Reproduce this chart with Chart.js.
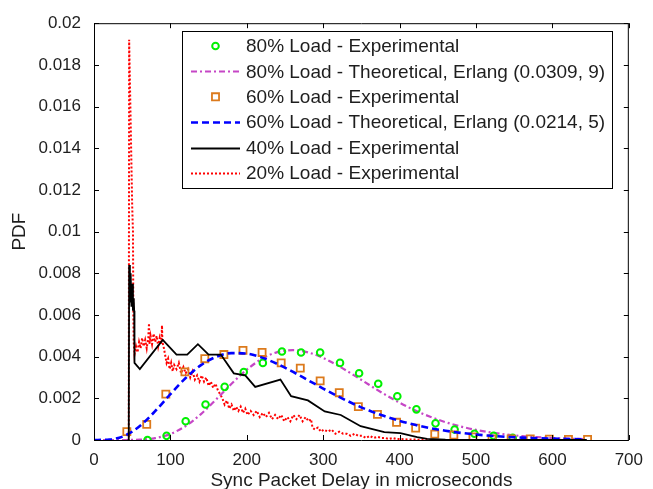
<!DOCTYPE html>
<html><head><meta charset="utf-8">
<script src="https://cdn.jsdelivr.net/npm/chart.js@4.4.1/dist/chart.umd.min.js"></script>
<style>html,body{margin:0;padding:0;background:#fff;}#wrap{width:653px;height:489px;}</style>
</head><body><div id="wrap"><canvas id="c" width="653" height="489"></canvas></div>
<script>
// ---------- data ----------
const xTicks = [0, 100, 200, 300, 400, 500, 600, 700];
const xTickLabels = ['0', '100', '200', '300', '400', '500', '600', '700'];
const yTicks = [0, 0.002, 0.004, 0.006, 0.008, 0.01, 0.012, 0.014, 0.016, 0.018, 0.02];
const yTickLabels = ['0', '0.002', '0.004', '0.006', '0.008', '0.01', '0.012', '0.014', '0.016', '0.018', '0.02'];

const seriesLabels = [
  '80% Load - Experimental',
  '80% Load - Theoretical, Erlang (0.0309, 9)',
  '60% Load - Experimental',
  '60% Load - Theoretical, Erlang (0.0214, 5)',
  '40% Load - Experimental',
  '20% Load - Experimental'
];

// 80% experimental (circles)
const exp80X = [70, 95, 120, 146, 171, 196, 221, 246, 271, 296, 322, 347, 372, 397, 422, 447, 472, 498, 523, 548];
const exp80Y = [0, 0.0002, 0.0009, 0.0017, 0.00255, 0.00326, 0.0037, 0.00425, 0.0042, 0.0042, 0.0037, 0.0032, 0.0027, 0.0021, 0.00147, 0.0008, 0.0005, 0.0003, 0.0002, 0.0001];

// theoretical curves sampled every 20 us
const theoX = [0, 20, 40, 60, 80, 100, 120, 140, 160, 180, 200, 220, 240, 260, 280, 300, 320, 340, 360, 380, 400, 420, 440, 460, 480, 500, 520, 540, 560, 580, 600, 620, 640];
const theo80Y = [0, 0, 0.000001, 0.000017, 0.00009, 0.00029, 0.000672, 0.001243, 0.00195, 0.002697, 0.003376, 0.003901, 0.004217, 0.004312, 0.004204, 0.003936, 0.003556, 0.003112, 0.00265, 0.002202, 0.001789, 0.001425, 0.001114, 0.000857, 0.000649, 0.000485, 0.000358, 0.000261, 0.000188, 0.000134, 0.000095, 0.000067, 0.000047];
const theo60Y = [0, 0.00002, 0.000203, 0.000671, 0.001383, 0.0022, 0.002974, 0.003591, 0.003993, 0.00417, 0.004142, 0.003953, 0.00365, 0.003277, 0.002873, 0.002467, 0.002082, 0.001729, 0.001417, 0.001147, 0.000918, 0.000727, 0.000571, 0.000444, 0.000343, 0.000263, 0.000201, 0.000152, 0.000115, 0.000086, 0.000064, 0.000048, 0.000035];

// 60% experimental (squares)
const exp60X = [43, 69, 94, 119, 145, 170, 195, 220, 245, 270, 296, 321, 346, 371, 396, 421, 446, 471, 496, 521, 546, 571, 596, 621, 646];
const exp60Y = [0.0004, 0.00075, 0.0022, 0.00327, 0.0039, 0.0041, 0.0043, 0.0042, 0.0037, 0.00345, 0.00284, 0.00227, 0.0016, 0.00123, 0.00085, 0.00057, 0.00028, 0.00024, 0.00015, 0.00005, 0.00005, 0.00005, 0.00004, 0.00003, 0.00003];

// 40% experimental (black line)
const exp40X = [44, 45.5, 46, 47, 48, 49, 50, 51, 52, 52.6, 53, 60, 90, 108, 122, 136, 150, 166, 183, 198, 211, 244, 258, 280, 302, 323, 349, 380, 401, 423, 436, 460, 500, 550, 645];
const exp40Y = [0, 0, 0.0084, 0.0066, 0.0080, 0.0064, 0.0075, 0.0062, 0.0068, 0.0062, 0.0037, 0.0034, 0.0048, 0.0041, 0.0041, 0.0046, 0.0041, 0.0041, 0.0032, 0.0031, 0.00255, 0.0029, 0.0021, 0.0019, 0.00137, 0.0012, 0.00066, 0.00038, 0.00033, 0.00014, 0.00005, 0.00002, 0.00001, 0, 0];

// 20% experimental (red dotted)
const exp20X = [44, 45.5, 46, 50, 51, 51.5, 52, 53, 55, 57, 59, 61, 63, 65, 67, 69, 71, 72, 72.5, 74, 76, 78, 80, 82, 84, 86, 88, 89, 89.5, 91, 93, 95, 97, 99, 101, 103, 105, 108, 111, 114, 117, 120, 123, 126, 129, 132, 135, 138, 141, 144, 147, 150, 153, 156, 159, 162, 165, 168, 171, 174, 177, 180, 183, 186, 189, 192, 195, 198, 201, 205, 209, 213, 217, 221, 225, 229, 233, 237, 241, 245, 249, 253, 257, 261, 265, 269, 273, 277, 281, 284, 286, 289, 293, 297, 301, 306, 311, 316, 321, 326, 331, 336, 341, 346, 351, 356, 361, 366, 371, 376, 381, 386, 391, 396, 401, 410, 420, 430, 440, 460, 480];
const exp20Y = [0, 0, 0.0192, 0.0112, 0.0100, 0.0060, 0.0047, 0.0041, 0.0045, 0.0042, 0.0047, 0.0044, 0.0049, 0.0045, 0.0048, 0.0044, 0.0049, 0.0056, 0.0046, 0.0050, 0.0046, 0.0051, 0.0047, 0.0050, 0.0045, 0.0049, 0.0046, 0.0055, 0.0047, 0.0045, 0.0041, 0.0037, 0.0039, 0.0034, 0.0037, 0.0033, 0.0036, 0.0034, 0.0037, 0.0032, 0.0035, 0.0032, 0.0034, 0.0030, 0.0033, 0.0029, 0.0031, 0.0028, 0.0031, 0.0028, 0.0030, 0.0026, 0.0028, 0.0025, 0.0027, 0.0024, 0.0022, 0.0020, 0.0017, 0.0019, 0.0015, 0.0017, 0.0014, 0.0016, 0.0014, 0.0016, 0.0013, 0.0015, 0.0012, 0.0014, 0.0012, 0.0014, 0.0011, 0.0013, 0.0011, 0.0013, 0.0010, 0.0012, 0.0010, 0.0012, 0.0009, 0.0011, 0.0009, 0.0012, 0.0010, 0.0012, 0.0009, 0.0011, 0.0009, 0.0010, 0.0006, 0.0005, 0.0006, 0.0004, 0.0005, 0.0004, 0.0005, 0.0003, 0.0004, 0.0003, 0.0003, 0.0002, 0.0003, 0.0002, 0.0002, 0.0001, 0.0002, 0.0001, 0.00015, 0.0001, 0.0001, 0.00005, 0.0001, 0.00005, 0.00005, 0.00003, 0.00002, 0.00001, 0, 0, 0];

// ---------- build ----------
const pts = (xs, ys) => xs.map((x, i) => ({x: x, y: ys[i]}));
const FONT = "'Liberation Sans', Arial, sans-serif";
const TXT = '#1e1e1e';

const datasets = [
  {label: seriesLabels[5], data: pts(exp20X, exp20Y), showLine: true, borderColor: '#ff0000', borderWidth: 2, borderDash: [2, 2], pointRadius: 0, order: 6, _kind: 'line'},
  {label: seriesLabels[1], data: pts(theoX, theo80Y), showLine: true, borderColor: '#c646c6', borderWidth: 2.2, borderDash: [6, 3, 2, 3], pointRadius: 0, cubicInterpolationMode: 'monotone', order: 5, _kind: 'line'},
  {label: seriesLabels[0], data: pts(exp80X, exp80Y), showLine: false, pointStyle: 'circle', pointRadius: 3.3, borderColor: '#00f000', backgroundColor: 'rgba(0,0,0,0)', pointBorderWidth: 2, order: 4, _kind: 'point'},
  {label: seriesLabels[2], data: pts(exp60X, exp60Y), showLine: false, pointStyle: 'rect', pointRadius: 5, borderColor: '#dc7a1c', backgroundColor: 'rgba(0,0,0,0)', pointBorderWidth: 1.8, order: 3, _kind: 'point'},
  {label: seriesLabels[3], data: pts(theoX, theo60Y), showLine: true, borderColor: '#0000ff', borderWidth: 2.6, borderDash: [7, 4], pointRadius: 0, cubicInterpolationMode: 'monotone', order: 2, _kind: 'line'},
  {label: seriesLabels[4], data: pts(exp40X, exp40Y), showLine: true, borderColor: '#000000', borderWidth: 1.8, pointRadius: 0, order: 1, _kind: 'line'}
];

const boxTicks = {
  id: 'boxTicks',
  afterDatasetsDraw(chart) {
    const {ctx, chartArea: a, scales} = chart;
    ctx.save();
    ctx.strokeStyle = '#000';
    ctx.lineWidth = 1;
    ctx.setLineDash([]);
    ctx.beginPath();
    ctx.rect(a.left + 0.5, a.top + 0.5, a.right - a.left - 1, a.bottom - a.top);
    const L = 5;
    xTicks.forEach(v => {
      const p = Math.round(scales.x.getPixelForValue(v)) + 0.5;
      ctx.moveTo(p, a.bottom); ctx.lineTo(p, a.bottom - L);
      ctx.moveTo(p, a.top); ctx.lineTo(p, a.top + L);
    });
    yTicks.forEach(v => {
      const p = Math.round(scales.y.getPixelForValue(v)) + 0.5;
      ctx.moveTo(a.left, p); ctx.lineTo(a.left + L, p);
      ctx.moveTo(a.right, p); ctx.lineTo(a.right - L, p);
    });
    ctx.stroke();
    ctx.restore();
  }
};

const legendOrder = [0, 1, 2, 3, 4, 5];
const boxLegend = {
  id: 'boxLegend',
  afterDraw(chart) {
    const ctx = chart.ctx;
    const bx = 182, by = 31, bw = 430, bh = 157;
    ctx.save();
    ctx.fillStyle = '#fff';
    ctx.fillRect(bx, by, bw, bh);
    ctx.strokeStyle = '#000';
    ctx.lineWidth = 1;
    ctx.setLineDash([]);
    ctx.strokeRect(bx + 0.5, by + 0.5, bw, bh);
    const byLabel = {};
    chart.data.datasets.forEach(d => byLabel[d.label] = d);
    legendOrder.forEach((li, i) => {
      const d = byLabel[seriesLabels[li]];
      const cy = 46 + i * 25.4;
      const x0 = 191, x1 = 240;
      if (d._kind === 'line') {
        ctx.save();
        ctx.strokeStyle = d.borderColor;
        ctx.lineWidth = d.borderWidth;
        ctx.setLineDash(d.borderDash || []);
        ctx.beginPath();
        ctx.moveTo(x0, Math.round(cy) + 0.5);
        ctx.lineTo(x1, Math.round(cy) + 0.5);
        ctx.stroke();
        ctx.restore();
      } else {
        ctx.save();
        ctx.fillStyle = 'rgba(0,0,0,0)';
        ctx.strokeStyle = d.borderColor;
        ctx.lineWidth = d.pointBorderWidth;
        ctx.setLineDash([]);
        Chart.helpers.drawPoint(ctx, {pointStyle: d.pointStyle, radius: d.pointRadius, borderWidth: d.pointBorderWidth, rotation: 0}, (x0 + x1) / 2, cy);
        ctx.restore();
      }
      ctx.fillStyle = TXT;
      ctx.font = '19px ' + FONT;
      ctx.textAlign = 'left';
      ctx.textBaseline = 'middle';
      ctx.fillText(seriesLabels[li], 246, cy + 1);
    });
    ctx.restore();
  }
};

new Chart(document.getElementById('c'), {
  type: 'scatter',
  data: {datasets: datasets},
  options: {
    responsive: false,
    animation: false,
    devicePixelRatio: 1,
    layout: {padding: {top: 17, right: 19, left: 0, bottom: 0}},
    plugins: {legend: {display: false}, tooltip: {enabled: false}},
    scales: {
      x: {
        type: 'linear', min: 0, max: 700,
        afterFit: s => { s.height = 49; },
        afterBuildTicks: s => { s.ticks = xTicks.map(v => ({value: v})); },
        grid: {display: false, drawTicks: false},
        border: {display: false},
        ticks: {padding: 10, color: TXT, font: {family: FONT, size: 17}, maxRotation: 0, autoSkip: false,
          callback: (v) => xTickLabels[xTicks.indexOf(v)]},
        title: {display: true, text: 'Sync Packet Delay in microseconds', color: TXT, font: {family: FONT, size: 19}, padding: {top: 0, bottom: -3}}
      },
      y: {
        type: 'linear', min: 0, max: 0.02,
        afterFit: s => { s.width = 94; },
        afterBuildTicks: s => { s.ticks = yTicks.map(v => ({value: v})); },
        grid: {display: false, drawTicks: false},
        border: {display: false},
        ticks: {padding: 13, color: TXT, font: {family: FONT, size: 17}, autoSkip: false,
          callback: (v) => { const i = yTicks.findIndex(t => Math.abs(t - v) < 1e-9); return yTickLabels[i]; }},
        title: {display: true, text: 'PDF', color: TXT, font: {family: FONT, size: 19}, padding: {top: 8, bottom: 0}}
      }
    }
  },
  plugins: [boxTicks, boxLegend]
});
</script>
</body></html>
